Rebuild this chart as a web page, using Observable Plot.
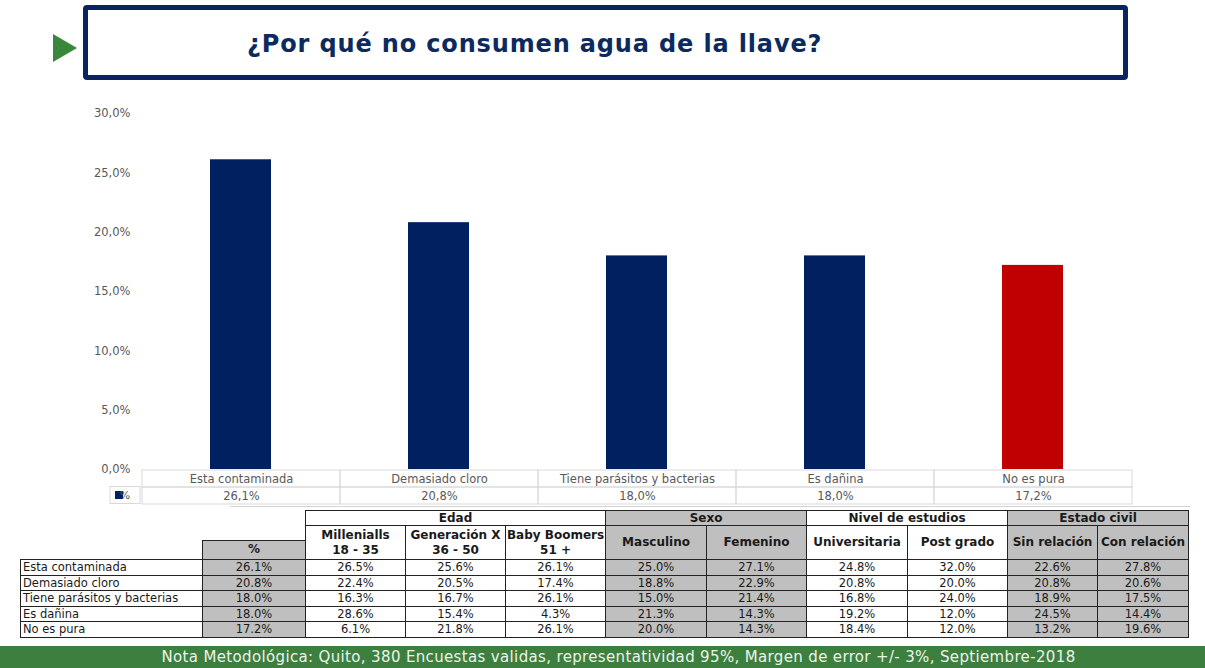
<!DOCTYPE html>
<html>
<head>
<meta charset="utf-8">
<script src="https://cdn.jsdelivr.net/npm/d3@7"></script>
<script src="https://cdn.jsdelivr.net/npm/@observablehq/plot@0.6"></script>
<style>
  html, body { margin: 0; padding: 0; background: #fff; }
  #wrap { position: relative; width: 1205px; height: 668px; overflow: hidden; font-family: "DejaVu Sans", Verdana, sans-serif; }
  #titlebox { position: absolute; left: 83px; top: 5px; width: 1045px; height: 75px; box-sizing: border-box; border: 5px solid #0b2461; border-radius: 4px; }
  #title { position: absolute; left: 247px; top: 30px; font-size: 24px; letter-spacing: 0.85px; line-height: 28px; font-weight: bold; color: #0d2a5e; white-space: nowrap; }
  #tri { position: absolute; left: 53px; top: 34px; width: 0; height: 0; border-top: 14px solid transparent; border-bottom: 14px solid transparent; border-left: 24px solid #38873a; }
  #bars { position: absolute; left: 0; top: 100px; }
  #dtab { position: absolute; left: 0; top: 469px; }
  #sep { position: absolute; left: 230px; top: 506px; width: 960px; height: 1px; background: #d4d4d4; }
  #bigtab { position: absolute; left: 20px; top: 510px; border-collapse: collapse; table-layout: fixed; font-size: 11.5px; color: #1a1a1a; }
  #bigtab td { padding: 0; border: 1px solid #222; text-align: center; height: 14px; line-height: 14px; overflow: hidden; white-space: nowrap; }
  #bigtab tr.d td { height: 14.5px; }
  #bigtab td.lab { text-align: left; padding-left: 2px; }
  #bigtab td.nb { border: none; }
  #bigtab td.g { background: #bfbfbf; }
  #bigtab td.h { font-weight: bold; font-size: 12px; }
  #bigtab td.sh { font-weight: bold; font-size: 12px; line-height: 15px; }
  #footer { position: absolute; left: 0; top: 646px; width: 1205px; height: 22px; box-sizing: border-box; padding-left: 32px; background: #3d7f3e; color: #eaf4ea; font-size: 15px; letter-spacing: 0.35px; line-height: 22px; text-align: center; white-space: nowrap; }
</style>
</head>
<body>
<div id="wrap">
  <div id="tri"></div>
  <div id="titlebox"></div>
  <div id="title"></div>
  <div id="bars"></div>
  <div id="dtab"></div>
  <div id="sep"></div>
  <table id="bigtab"></table>
  <div id="footer"></div>
</div>
<script>
// ---------- DATA ----------
const titleText = "¿Por qué no consumen agua de la llave?";
const footerText = "Nota Metodológica: Quito, 380 Encuestas validas, representatividad 95%, Margen de error +/- 3%, Septiembre-2018";
const categories = ["Esta contaminada", "Demasiado cloro", "Tiene parásitos y bacterias", "Es dañina", "No es pura"];
const pct = [26.1, 20.8, 18.0, 18.0, 17.2];
const yTicks = [0, 5, 10, 15, 20, 25, 30];
const highlighted = "No es pura";
const seriesName = "%";

const groups = ["Edad", "Sexo", "Nivel de estudios", "Estado civil"];
const subHeaders = [
  ["Millenialls", "18 - 35"], ["Generación X", "36 - 50"], ["Baby Boomers", "51 +"],
  ["Masculino"], ["Femenino"],
  ["Universitaria"], ["Post grado"],
  ["Sin relación"], ["Con relación"]
];
const millenialls = [26.5, 22.4, 16.3, 28.6, 6.1];
const generacionX = [25.6, 20.5, 16.7, 15.4, 21.8];
const babyBoomers = [26.1, 17.4, 26.1, 4.3, 26.1];
const masculino = [25.0, 18.8, 15.0, 21.3, 20.0];
const femenino = [27.1, 22.9, 21.4, 14.3, 14.3];
const universitaria = [24.8, 20.8, 16.8, 19.2, 18.4];
const postGrado = [32.0, 20.0, 24.0, 12.0, 12.0];
const sinRelacion = [22.6, 20.8, 18.9, 24.5, 13.2];
const conRelacion = [27.8, 20.6, 17.5, 14.4, 19.6];

// ---------- styles ----------
const NAVY = "#002060", RED = "#C00000", AXIS = "#595959";
const W = 1205, ML = 140, MR = 71;
const fmtComma = d => d.toFixed(1).replace(".", ",") + "%";

document.getElementById("title").textContent = titleText;
document.getElementById("footer").textContent = footerText;

const rows = categories.map((c, i) => ({category: c, value: pct[i]}));

// ---------- bar chart ----------
const bars = Plot.plot({
  width: W, height: 370,
  marginLeft: ML, marginRight: MR, marginTop: 13, marginBottom: 1,
  style: {fontFamily: "DejaVu Sans, Verdana, sans-serif", fontSize: "11.5px", color: AXIS, background: "transparent", overflow: "visible"},
  x: {domain: categories, paddingInner: 0.69, paddingOuter: 0.345, axis: null},
  y: {domain: [0, 30], ticks: yTicks, tickFormat: fmtComma, tickSize: 0, tickPadding: 10, label: null},
  marks: [
    Plot.barY(rows, {x: "category", y: "value", fill: d => d.category === highlighted ? RED : NAVY})
  ]
});
document.getElementById("bars").appendChild(bars);

// ---------- data table under chart ----------
const tableRows = [];
rows.forEach(r => {
  tableRows.push({category: r.category, row: "cat", label: r.category});
  tableRows.push({category: r.category, row: "val", label: fmtComma(r.value)});
});
const legendCell = (index, scales, values, dims) => {
  const g = d3.create("svg:g");
  const rowH = (dims.height - dims.marginTop - dims.marginBottom) / 2;
  const y0 = dims.marginTop + rowH, x0 = dims.marginLeft - 30;
  g.append("rect").attr("x", x0).attr("y", y0).attr("width", 30).attr("height", rowH)
    .attr("fill", "none").attr("stroke", "#d9d9d9");
  g.append("rect").attr("x", x0 + 5).attr("y", y0 + rowH / 2 - 4).attr("width", 8).attr("height", 8).attr("fill", NAVY);
  g.append("text").attr("x", x0 + 15).attr("y", y0 + rowH / 2).attr("dy", "0.35em")
    .attr("fill", AXIS).attr("font-size", 11).text(seriesName);
  return g.node();
};
const dtab = Plot.plot({
  width: W, height: 35,
  marginLeft: ML, marginRight: MR, marginTop: 0.5, marginBottom: 0.5,
  style: {fontFamily: "DejaVu Sans, Verdana, sans-serif", fontSize: "11px", color: AXIS, background: "transparent", overflow: "visible"},
  x: {domain: categories, padding: 0, axis: null},
  y: {domain: ["cat", "val"], padding: 0, axis: null},
  marks: [
    Plot.cell(tableRows, {x: "category", y: "row", fill: "none", stroke: "#d9d9d9", inset: 0}),
    Plot.text(tableRows, {x: "category", y: "row", text: "label", fill: AXIS, fontSize: 11.5}),
    legendCell
  ]
});
document.getElementById("dtab").appendChild(dtab);

// ---------- big cross table ----------
const colWidths = [182, 103, 100, 100, 100, 101, 100, 101, 100, 90, 91];
const groupSpans = [3, 2, 2, 2];
const groupGray = [false, true, false, true];
const subGray = [false, false, false, true, true, false, false, true, true];
const cols = [millenialls, generacionX, babyBoomers, masculino, femenino, universitaria, postGrado, sinRelacion, conRelacion];
const fmtDot = d => d.toFixed(1) + "%";

const tab = d3.select("#bigtab");
const cg = tab.append("colgroup");
colWidths.forEach(w => cg.append("col").style("width", w + "px"));
tab.style("width", d3.sum(colWidths) + "px");

// header row 1: group names
const r1 = tab.append("tr");
r1.append("td").attr("class", "nb").attr("colspan", 2).style("height", "15px");
groups.forEach((g, i) => r1.append("td").attr("colspan", groupSpans[i])
  .attr("class", "h" + (groupGray[i] ? " g" : "")).text(g));
// header row 2: sub headers (span 2 rows)
const r2 = tab.append("tr");
r2.append("td").attr("class", "nb").style("height", "14px");
r2.append("td").attr("class", "nb");
subHeaders.forEach((s, i) => {
  r2.append("td").attr("rowspan", 2).attr("class", "sh" + (subGray[i] ? " g" : "")).html(s.join("<br>"));
});
// header row 3: "%" header
const r3 = tab.append("tr");
r3.append("td").attr("class", "nb").style("height", "19px");
r3.append("td").attr("class", "sh g").text(seriesName);
// data rows
categories.forEach((c, ri) => {
  const tr = tab.append("tr").attr("class", "d");
  tr.append("td").attr("class", "lab").text(c);
  tr.append("td").attr("class", "g").text(fmtDot(pct[ri]));
  cols.forEach((col, ci) => tr.append("td").attr("class", subGray[ci] ? "g" : "").text(fmtDot(col[ri])));
});
</script>
</body>
</html>
